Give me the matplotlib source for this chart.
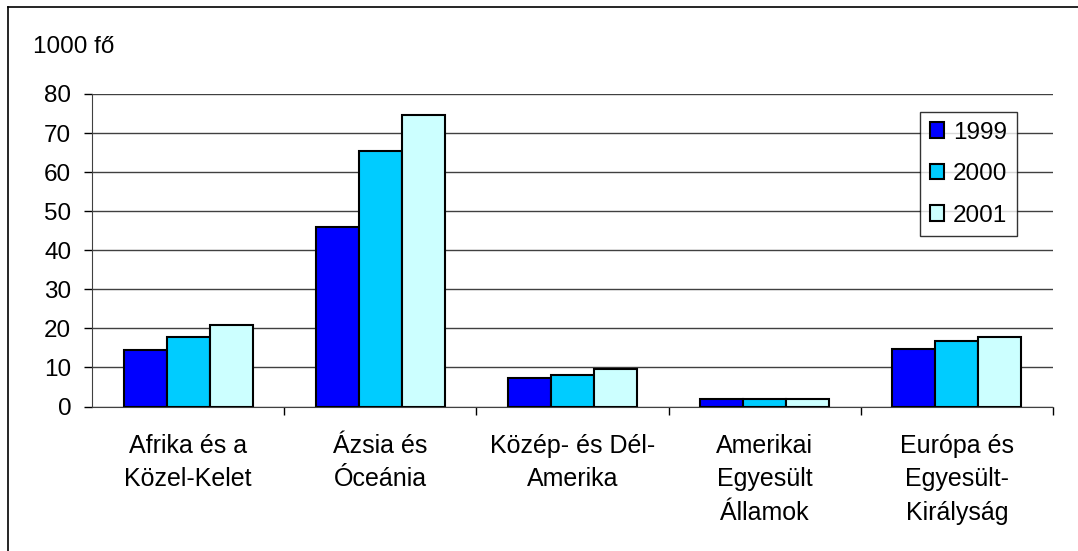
import numpy as np
import matplotlib.pyplot as plt
from matplotlib.lines import Line2D

plt.rcParams['font.family'] = ['Liberation Sans', 'DejaVu Sans']

categories = ['Afrika és a\nKözel-Kelet', 'Ázsia és\nÓceánia', 'Közép- és Dél-\nAmerika',
              'Amerikai\nEgyesült\nÁllamok', 'Európa és\nEgyesült-\nKirályság']
years = ['1999', '2000', '2001']
v1999 = [14.4, 46.0, 7.4, 1.9, 14.8]
v2000 = [17.7, 65.4, 8.0, 1.9, 16.8]
v2001 = [20.8, 74.6, 9.6, 1.9, 17.9]
colors = ['#0000FF', '#00CCFF', '#CCFFFF']

W, H = 1078, 551
fig = plt.figure(figsize=(W / 100, H / 100), dpi=100)
ax = fig.add_axes([92 / W, (H - 406.5) / H, (1053 - 92) / W, (406.5 - 94) / H])

x = np.arange(len(categories))
bw = 0.224
for i, (vals, yr) in enumerate(zip([v1999, v2000, v2001], years)):
    ax.bar(x + (i - 1) * bw, vals, width=bw, color=colors[i], edgecolor='black',
           linewidth=1.5, label=yr, zorder=3)

ax.set_xlim(-0.5, len(categories) - 0.5)
ax.set_ylim(0, 80)
ax.set_yticks(range(0, 81, 10))
ax.yaxis.grid(True, color='#404040', linewidth=1)
ax.set_axisbelow(True)
ax.tick_params(axis='y', length=6, width=1, pad=9, labelsize=17.5)

ax.set_xticks(np.arange(0.5, len(categories), 1))
ax.set_xticklabels([])
ax.set_xticks(x, minor=True)
ax.set_xticklabels(categories, minor=True, fontsize=18, linespacing=1.48, va='top')
ax.tick_params(axis='x', which='major', length=6, width=1)
ax.tick_params(axis='x', which='minor', length=0, pad=20)

for s in ['top', 'right']:
    ax.spines[s].set_visible(False)
ax.spines['left'].set_color('#404040')
ax.spines['bottom'].set_color('#404040')

leg = ax.legend(loc='upper left', bbox_to_anchor=(920 / W, 1 - 112 / H),
                bbox_transform=fig.transFigure, fontsize=17.5, frameon=True,
                fancybox=False, edgecolor='black', handlelength=0.6, handleheight=0.6,
                handletextpad=0.35, labelspacing=0.8, borderpad=0.4, borderaxespad=0)
leg.get_frame().set_linewidth(1)

fig.text(33 / W, 1 - 53 / H, '1000 fő', fontsize=17.5, va='baseline', ha='left')

# frame lines (top and left only)
fig.add_artist(Line2D([8 / W, 1], [1 - 7 / H, 1 - 7 / H], color='black', linewidth=1.2))
fig.add_artist(Line2D([8 / W, 8 / W], [0, 1 - 7 / H], color='black', linewidth=1.2))

fig.savefig('out.png', dpi=100)
